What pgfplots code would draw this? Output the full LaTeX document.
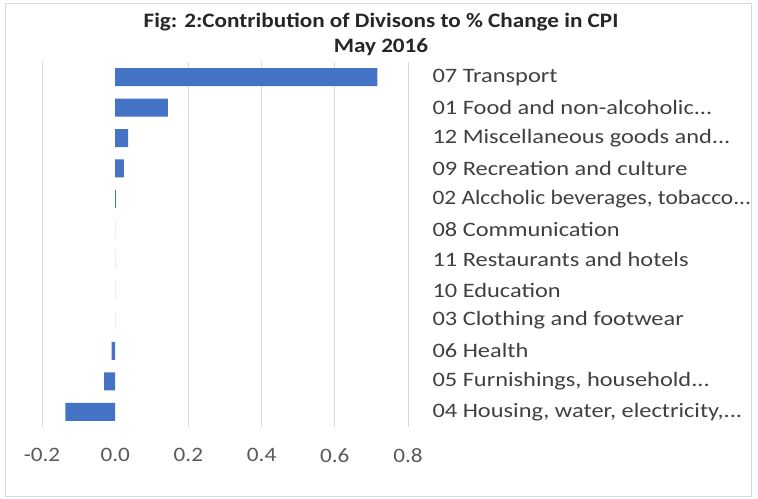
\documentclass[border=0pt]{standalone}
\usepackage{fontspec}
\setmainfont{Carlito}[FakeStretch=1.13]
\newfontfamily\catfont{Carlito}[FakeStretch=1.19]
\newfontfamily\catfontnarrow{Carlito}[FakeStretch=1.14]
\usepackage{pgfplots}
\pgfplotsset{compat=1.18}
\definecolor{barblue}{HTML}{4472C4}
\definecolor{gridgrey}{HTML}{D9D9D9}
\definecolor{labgrey}{HTML}{404040}
\definecolor{tickgrey}{HTML}{595959}
\newcommand{\lbl}{\fontsize{20.5bp}{24bp}\selectfont}
\newcommand{\el}{.\kern0pt.\kern0pt.}

\begin{document}
\begin{tikzpicture}[x=1bp,y=1bp]
  \path[use as bounding box] (0,0) rectangle (758,499);
  \draw[gridgrey, line width=0.8bp] (5,3) rectangle (751,496);

  \node[font=\lbl\bfseries, text=black!85, anchor=center] at (381,477)
    {Fig: 2:Contribution of Divisons to \% Change in CPI};
  \node[font=\lbl\bfseries, text=black!85, anchor=center] at (381,452)
    {May 2016};

  \begin{axis}[
    at={(42bp,72bp)}, anchor=south west,
    scale only axis,
    width=366bp, height=365bp,
    xmin=-0.2, xmax=0.8,
    ymin=-0.5, ymax=11.5,
    y dir=reverse,
    axis line style={draw=none},
    major tick length=0pt,
    xtick={-0.2,0,0.2,0.4,0.6,0.8},
    xticklabels={-0.2,0.0,0.2,0.4,0.6,0.8},
    extra x ticks={-0.2,0.2,0.4,0.6,0.8},
    extra x tick labels={},
    extra x tick style={grid=major, major grid style={gridgrey, line width=0.8bp}},
    x tick label style={font=\lbl, text=tickgrey, yshift=-18bp},
    ytick={0,1,2,3,4,5,6,7,8,9,10,11},
    yticklabels={
      07 Transport,
      01 Food and non-alcoholic\el,
      12 Miscellaneous goods and\el,
      09 Recreation and culture,
      {\catfontnarrow 02 Alccholic beverages, tobacco\el},
      08 Communication,
      11 Restaurants and hotels,
      10 Education,
      03 Clothing and footwear,
      06 Health,
      {05 Furnishings, household\el},
      {04 Housing, water, electricity,\el}},
    yticklabel pos=right,
    y tick label style={font=\lbl\catfont, text=labgrey, anchor=west, xshift=21bp},
    /pgf/number format/assume math mode=true,
    clip=false,
  ]
    \addplot[xbar, bar width=18bp, bar shift=0pt, fill=barblue, draw=none]
      coordinates {
        (0.716,0) (0.144,1) (0.035,2) (0.024,3) (0.002,4) (0,5)
        (0,6) (0,7) (0,8) (-0.010,9) (-0.030,10) (-0.136,11)
      };
  \end{axis}
\end{tikzpicture}
\end{document}
